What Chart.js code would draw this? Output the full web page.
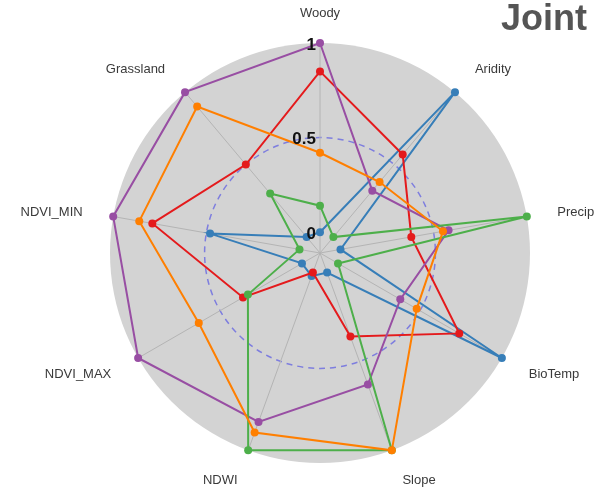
<!DOCTYPE html>
<html>
<head>
<meta charset="utf-8">
<script src="https://cdn.jsdelivr.net/npm/chart.js@4/dist/chart.umd.min.js"></script>
<style>
  html, body { margin: 0; padding: 0; background: #ffffff; }
  #wrap { width: 598px; height: 489px; }
  canvas { display: block; }
</style>
</head>
<body>
<div id="wrap"><canvas id="radar" width="598" height="489"></canvas></div>
<script>
// Axis categories, clockwise from the top
const categories = ['Woody', 'Aridity', 'Precip', 'BioTemp', 'Slope', 'NDWI', 'NDVI_MAX', 'NDVI_MIN', 'Grassland'];

// Series values (normalised 0..1), one per category
const seriesOrange = [0.42, 0.38, 0.55, 0.48, 1.00, 0.90, 0.63, 0.86, 0.90];
const seriesGreen  = [0.14, 0.00, 1.00, 0.00, 1.00, 1.00, 0.33, 0.00, 0.30];
const seriesPurple = [1.00, 0.32, 0.58, 0.38, 0.63, 0.84, 1.00, 1.00, 1.00];
const seriesRed    = [0.85, 0.57, 0.38, 0.74, 0.36, 0.00, 0.36, 0.79, 0.50];
const seriesBlue   = [0.00, 1.00, 0.00, 1.00, 0.00, 0.02, 0.00, 0.48, 0.00];

// Radial tick labels
const tickValues = [0, 0.5, 1];
const tickLabels = ['0', '0.5', '1'];

const palette = {
  orange: '#ff7f00',
  green:  '#4daf4a',
  purple: '#984ea3',
  red:    '#e41a1c',
  blue:   '#377eb8'
};

function makeSet(name, values, color) {
  return {
    label: name,
    data: values,
    borderColor: color,
    backgroundColor: color,
    pointBackgroundColor: color,
    pointBorderColor: color,
    pointBorderWidth: 0,
    pointRadius: 4,
    borderWidth: 2,
    fill: false,
    tension: 0
  };
}

// Axis names and radial value labels, drawn on top of the series
const labelPlugin = {
  id: 'radarLabels',
  afterDatasetsDraw(chart) {
    const scale = chart.scales.r;
    const ctx = chart.ctx;
    ctx.save();

    // category names around the outer ring
    const outer = scale.getDistanceFromCenterForValue(scale.max) + 31;
    ctx.font = '13px "Liberation Sans", Arial, sans-serif';
    ctx.fillStyle = '#3a3a3a';
    ctx.textBaseline = 'middle';
    categories.forEach((name, i) => {
      const p = scale.getPointPosition(i, outer);
      const dx = p.x - scale.xCenter;
      ctx.textAlign = Math.abs(dx) < 2 ? 'center' : (dx > 0 ? 'left' : 'right');
      ctx.fillText(name, p.x, p.y + 1);
    });

    // value labels along the vertical axis
    ctx.font = 'bold 17px "Liberation Sans", Arial, sans-serif';
    ctx.fillStyle = '#111111';
    ctx.textAlign = 'right';
    tickValues.forEach((v, i) => {
      const p = scale.getPointPositionForValue(0, v);
      ctx.fillText(tickLabels[i], scale.xCenter - 4, p.y + 2);
    });
    ctx.restore();
  }
};

new Chart(document.getElementById('radar'), {
  type: 'radar',
  data: {
    labels: categories,
    datasets: [
      makeSet('Group 1', seriesOrange, palette.orange),
      makeSet('Group 2', seriesGreen, palette.green),
      makeSet('Group 3', seriesPurple, palette.purple),
      makeSet('Group 4', seriesRed, palette.red),
      makeSet('Group 5', seriesBlue, palette.blue)
    ]
  },
  options: {
    responsive: false,
    animation: false,
    layout: { padding: { left: 53, right: 11, top: 0, bottom: 25 } },
    plugins: {
      legend: { display: false },
      tooltip: { enabled: false },
      title: {
        display: true,
        text: 'Joint',
        align: 'end',
        color: '#555555',
        font: { family: '"Liberation Sans", Arial, sans-serif', size: 36, weight: 'bold', lineHeight: 1.1 },
        padding: { top: 0, bottom: 4 }
      }
    },
    scales: {
      r: {
        min: -0.11,
        max: 1,
        backgroundColor: '#d3d3d3',
        ticks: { display: false, stepSize: 0.5 },
        pointLabels: { display: false },
        angleLines: { color: '#b4b4b4', lineWidth: 1 },
        grid: {
          circular: true,
          lineWidth: 1.5,
          color: (c) => (c.tick && c.tick.value === 0.5) ? 'rgba(110,110,225,0.85)' : 'rgba(0,0,0,0)'
        },
        border: { dash: [6, 5] }
      }
    }
  },
  plugins: [labelPlugin]
});
</script>
</body>
</html>
